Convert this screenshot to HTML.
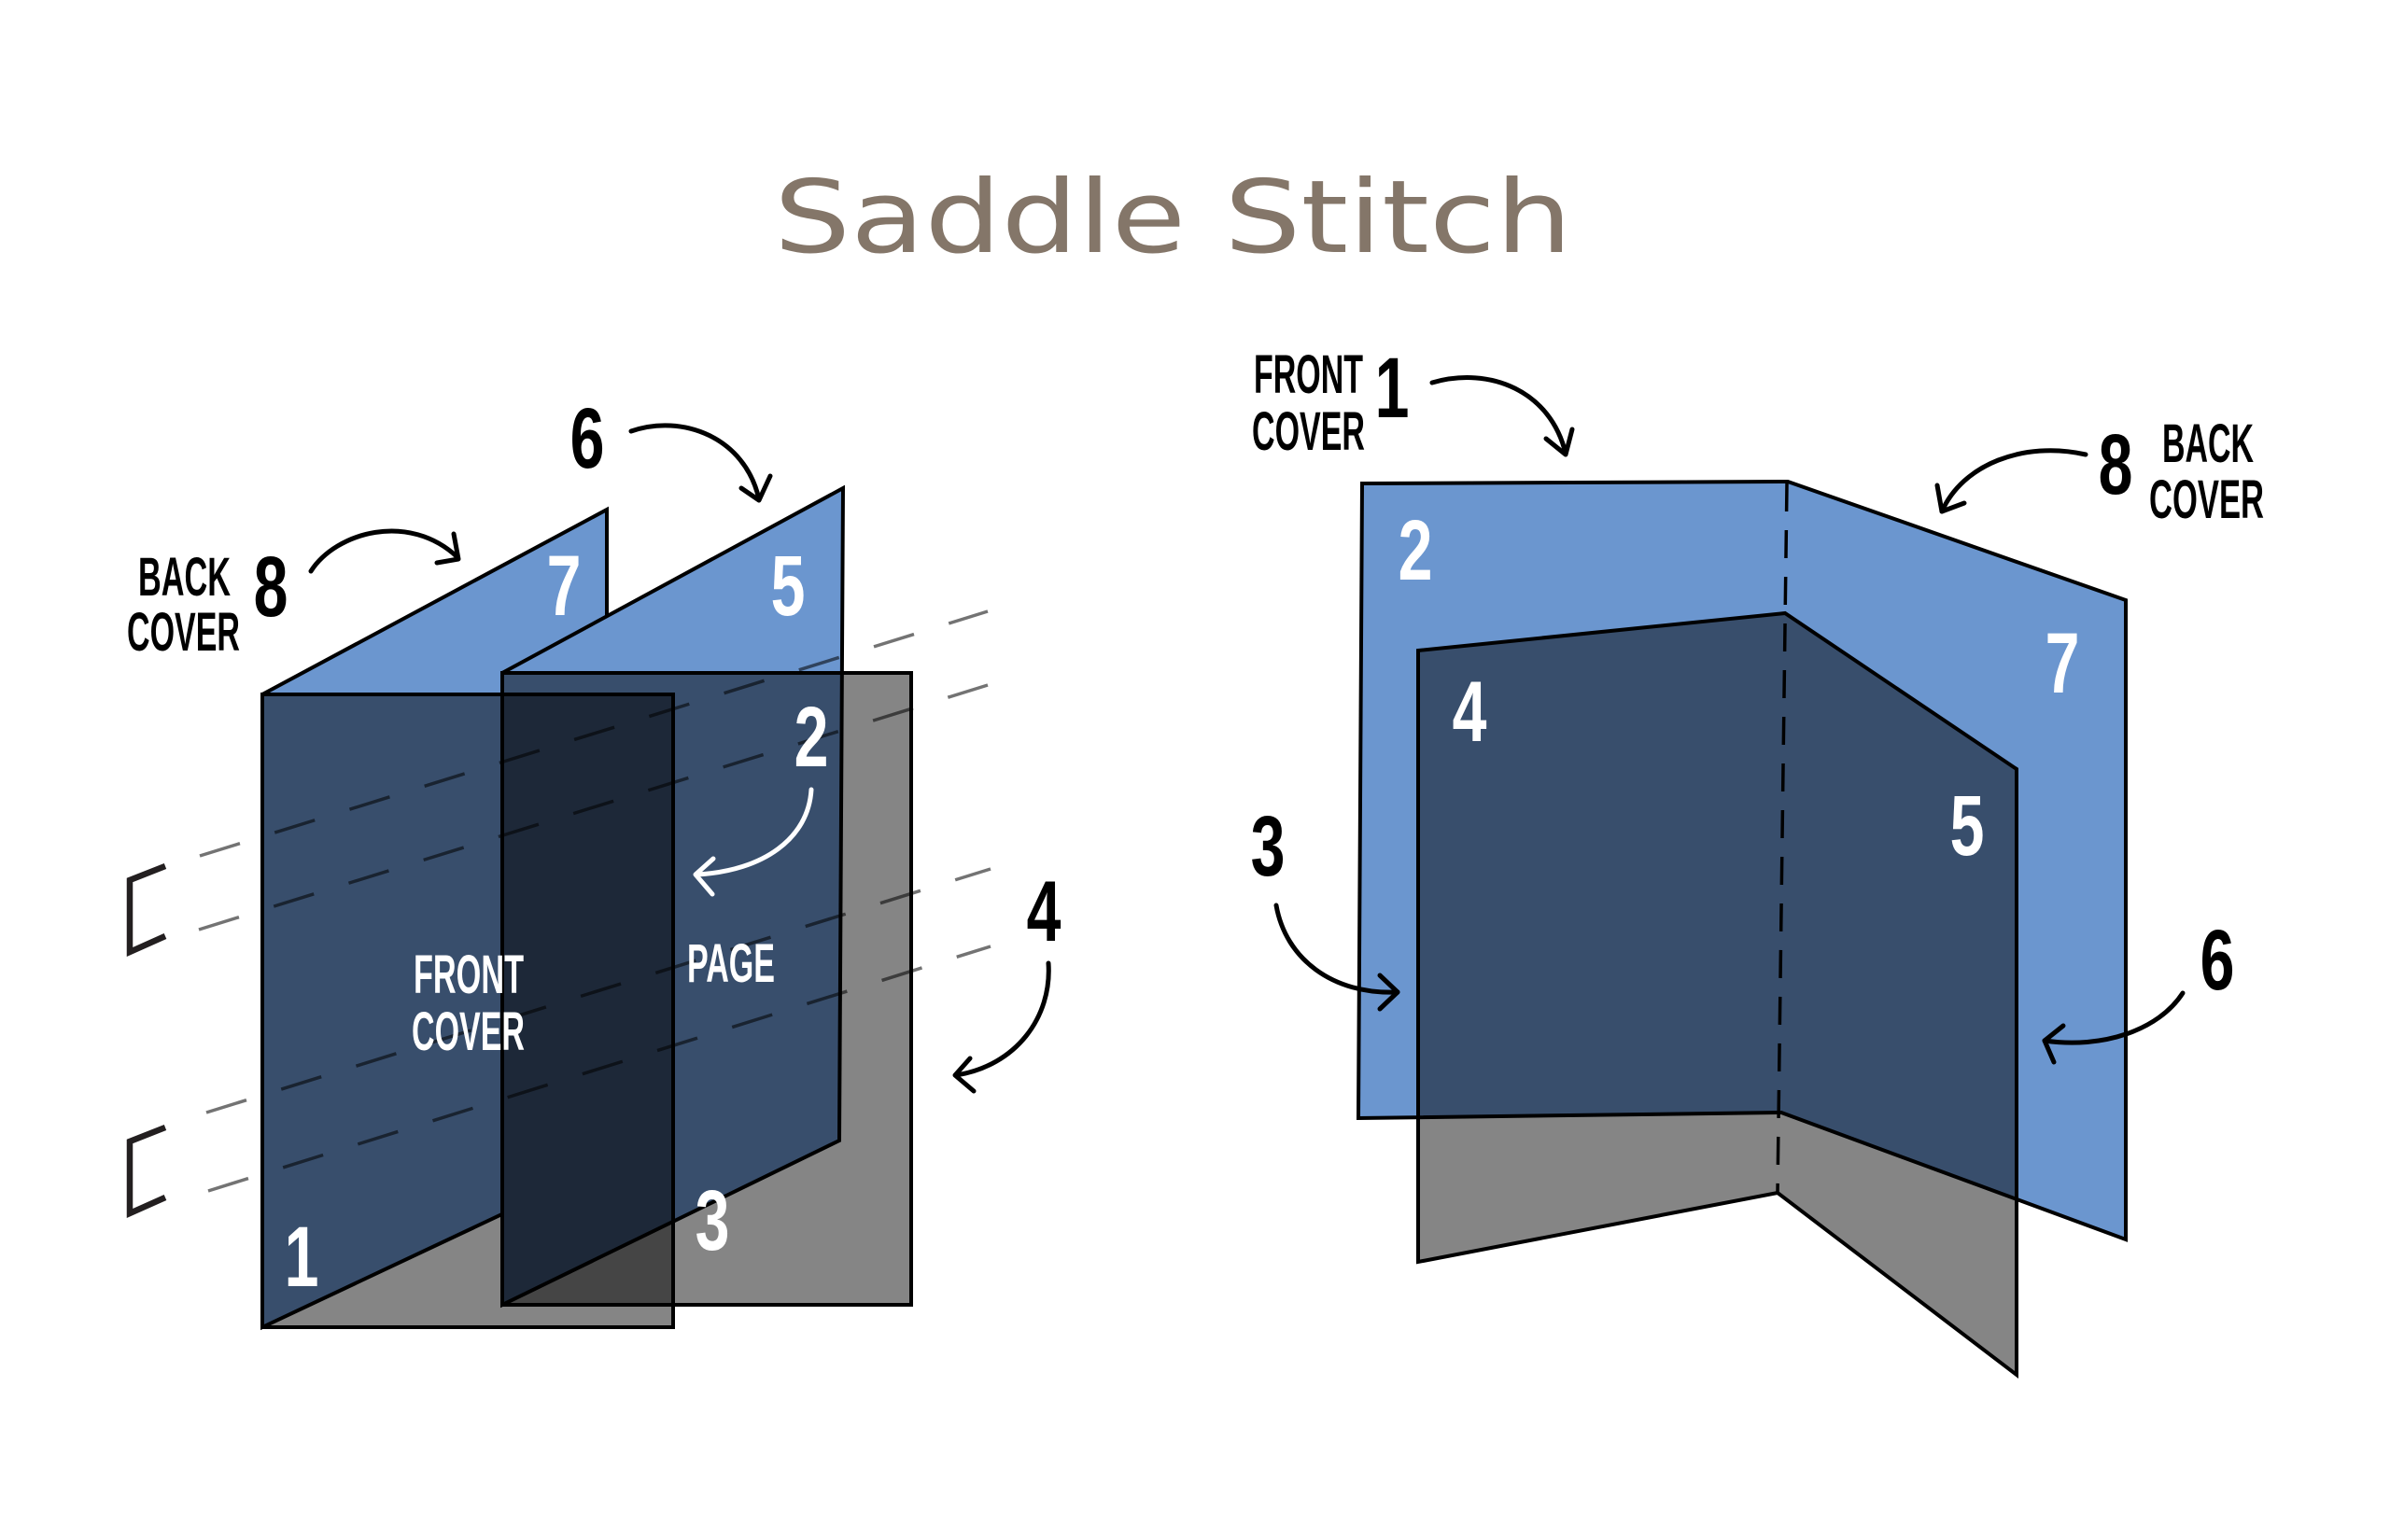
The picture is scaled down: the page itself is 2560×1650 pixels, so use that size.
<!DOCTYPE html>
<html>
<head>
<meta charset="utf-8">
<style>
  html,body{margin:0;padding:0;background:#fff;}
  body{width:2560px;height:1650px;overflow:hidden;}
  svg{display:block;}
  .w{font-family:"Liberation Sans",Arial,sans-serif;font-size:58px;font-weight:bold;}
  .d{font-family:"Liberation Sans",Arial,sans-serif;font-size:92px;font-weight:bold;}
  .title{font-family:"DejaVu Sans","Liberation Sans",sans-serif;font-size:108px;fill:#847669;}
</style>
</head>
<body>
<svg width="2560" height="1650" viewBox="0 0 2560 1650" xmlns="http://www.w3.org/2000/svg">
  <rect width="2560" height="1650" fill="#fff"/>

  <!-- Title -->
  <text class="title" x="829" y="270" textLength="855" lengthAdjust="spacingAndGlyphs">Saddle Stitch</text>

  <!-- ================= LEFT DIAGRAM ================= -->
  <g stroke="#000" stroke-width="4" stroke-linejoin="miter">
    <polygon points="281,744 650,546 650,1248 281,1422" fill="#6b96cf"/>
    <polygon points="538,721 903,523 899,1222 538,1398" fill="#6b96cf"/>
    <rect x="538" y="721" width="438" height="677" fill="rgba(0,0,0,0.48)"/>
    <rect x="281" y="744" width="440" height="678" fill="rgba(0,0,0,0.48)"/>
  </g>

  <!-- stitching dashed lines -->
  <g stroke="#000" stroke-opacity="0.55" stroke-width="3.5" stroke-dasharray="45 39" fill="none">
    <line x1="214" y1="917" x2="1058" y2="655"/>
    <line x1="213" y1="996" x2="1058" y2="734"/>
    <line x1="221" y1="1192" x2="1061" y2="931"/>
    <line x1="223" y1="1276" x2="1061" y2="1014"/>
  </g>

  <!-- staples -->
  <g stroke="#231f20" stroke-width="6.5" fill="none" stroke-linejoin="miter">
    <polyline points="177,928 139,943 139,1020 177,1003"/>
    <polyline points="177,1208 139,1223 139,1300 177,1283"/>
  </g>

  <!-- left labels -->
  <text class="w" x="148" y="638" textLength="99" lengthAdjust="spacingAndGlyphs">BACK</text>
  <text class="w" x="136" y="697" textLength="121" lengthAdjust="spacingAndGlyphs">COVER</text>
  <text class="d" transform="translate(290,660) scale(0.72,1)" text-anchor="middle">8</text>
  <text class="d" transform="translate(629,501) scale(0.72,1)" text-anchor="middle">6</text>
  <text class="d" fill="#fff" transform="translate(604,659) scale(0.72,1)" text-anchor="middle">7</text>
  <text class="d" fill="#fff" transform="translate(844,659) scale(0.72,1)" text-anchor="middle">5</text>
  <text class="d" fill="#fff" transform="translate(869,821) scale(0.72,1)" text-anchor="middle">2</text>
  <text class="w" fill="#fff" x="443" y="1064" textLength="118" lengthAdjust="spacingAndGlyphs">FRONT</text>
  <text class="w" fill="#fff" x="441" y="1125" textLength="121" lengthAdjust="spacingAndGlyphs">COVER</text>
  <text class="w" fill="#fff" x="736" y="1052" textLength="94" lengthAdjust="spacingAndGlyphs">PAGE</text>
  <text class="d" fill="#fff" transform="translate(323,1378) scale(0.72,1)" text-anchor="middle">1</text>
  <text class="d" fill="#fff" transform="translate(763,1339) scale(0.72,1)" text-anchor="middle">3</text>
  <text class="d" transform="translate(1118,1008) scale(0.72,1)" text-anchor="middle">4</text>

  <!-- left arrows -->
  <g stroke="#000" stroke-width="5" fill="none" stroke-linecap="round" stroke-linejoin="round">
    <path d="M333,612 C360,570 438,548 490,597"/>
    <path d="M486,572 L491,599 L468,603"/>
    <path d="M676,462 C730,443 798,468 813,535"/>
    <path d="M794,523 L813,536 L825,510"/>
    <path d="M1123,1032 C1127,1090 1088,1142 1024,1152"/>
    <path d="M1039,1134 L1023,1152 L1043,1169"/>
  </g>
  <g stroke="#fff" stroke-width="5" fill="none" stroke-linecap="round" stroke-linejoin="round">
    <path d="M869,846 C866,898 818,933 747,937"/>
    <path d="M764,920 L745,937 L763,958"/>
  </g>

  <!-- ================= RIGHT DIAGRAM ================= -->
  <g stroke="#000" stroke-width="4" stroke-linejoin="miter">
    <polygon points="1459,518 1915,516 2277,643 2277,1328 1908,1192 1455,1198" fill="#6b96cf"/>
    <polygon points="1519,697 1912,657 2160,824 2160,1473 1904,1278 1519,1352" fill="rgba(0,0,0,0.48)"/>
  </g>
  <line x1="1914" y1="518" x2="1904" y2="1278" stroke="#000" stroke-width="3.5" stroke-dasharray="30 20"/>

  <!-- right labels -->
  <text class="w" x="1343" y="421" textLength="117" lengthAdjust="spacingAndGlyphs">FRONT</text>
  <text class="w" x="1341" y="482" textLength="121" lengthAdjust="spacingAndGlyphs">COVER</text>
  <text class="d" transform="translate(1491,447) scale(0.72,1)" text-anchor="middle">1</text>
  <text class="d" transform="translate(2266,529) scale(0.72,1)" text-anchor="middle">8</text>
  <text class="w" x="2316" y="495" textLength="98" lengthAdjust="spacingAndGlyphs">BACK</text>
  <text class="w" x="2302" y="555" textLength="123" lengthAdjust="spacingAndGlyphs">COVER</text>
  <text class="d" fill="#fff" transform="translate(1516,621) scale(0.72,1)" text-anchor="middle">2</text>
  <text class="d" fill="#fff" transform="translate(1574,794) scale(0.72,1)" text-anchor="middle">4</text>
  <text class="d" fill="#fff" transform="translate(2209,742) scale(0.72,1)" text-anchor="middle">7</text>
  <text class="d" fill="#fff" transform="translate(2107,916) scale(0.72,1)" text-anchor="middle">5</text>
  <text class="d" transform="translate(1358,938) scale(0.72,1)" text-anchor="middle">3</text>
  <text class="d" transform="translate(2375,1060) scale(0.72,1)" text-anchor="middle">6</text>

  <!-- right arrows -->
  <g stroke="#000" stroke-width="5" fill="none" stroke-linecap="round" stroke-linejoin="round">
    <path d="M1534,410 C1596,392 1661,419 1677,486"/>
    <path d="M1656,470 L1677,487 L1684,460"/>
    <path d="M2234,487 C2167,472 2102,498 2080,548"/>
    <path d="M2075,520 L2080,548 L2104,539"/>
    <path d="M1367,970 C1377,1027 1427,1066 1497,1063"/>
    <path d="M1478,1045 L1497,1063 L1478,1081"/>
    <path d="M2338,1064 C2312,1104 2252,1124 2190,1115"/>
    <path d="M2210,1099 L2190,1115 L2200,1138"/>
  </g>
</svg>
</body>
</html>
